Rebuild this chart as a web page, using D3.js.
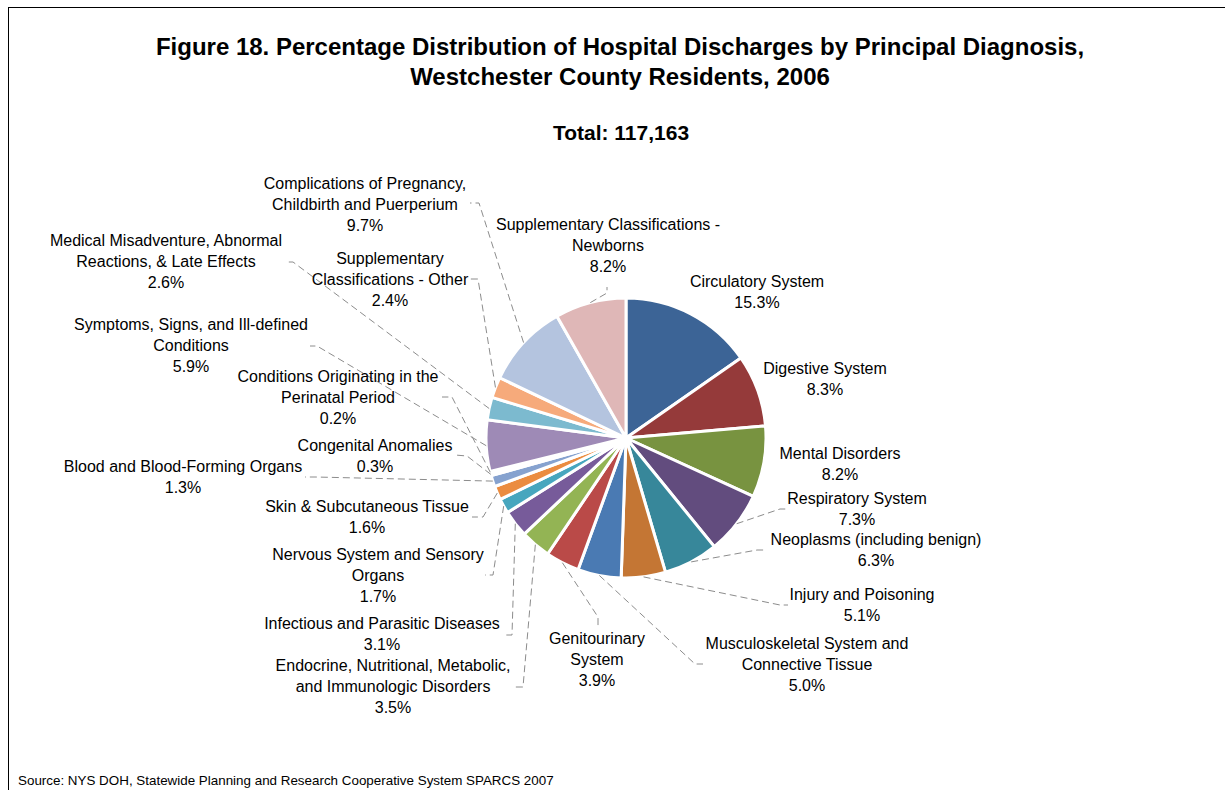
<!DOCTYPE html>
<html>
<head>
<meta charset="utf-8">
<script src="https://cdn.jsdelivr.net/npm/d3@7"></script>
<style>
  body { margin: 0; background: #fff; }
  svg { font-family: "Liberation Sans", Arial, sans-serif; }
</style>
</head>
<body>
<div id="chart"></div>
<script>
const categories = [
    "Circulatory System",
    "Digestive System",
    "Mental Disorders",
    "Respiratory System",
    "Neoplasms (including benign)",
    "Injury and Poisoning",
    "Musculoskeletal System and\nConnective Tissue",
    "Genitourinary\nSystem",
    "Endocrine, Nutritional, Metabolic,\nand Immunologic Disorders",
    "Infectious and Parasitic Diseases",
    "Nervous System and Sensory\nOrgans",
    "Skin & Subcutaneous Tissue",
    "Blood and Blood-Forming Organs",
    "Congenital Anomalies",
    "Conditions Originating in the\nPerinatal Period",
    "Symptoms, Signs, and Ill-defined\nConditions",
    "Medical Misadventure, Abnormal\nReactions, & Late Effects",
    "Supplementary\nClassifications - Other",
    "Complications of Pregnancy,\nChildbirth and Puerperium",
    "Supplementary Classifications -\nNewborns"
];
const percents = [15.3, 8.3, 8.2, 7.3, 6.3, 5.1, 5.0, 3.9, 3.5, 3.1, 1.7, 1.6, 1.3, 0.3, 0.2, 5.9, 2.6, 2.4, 9.7, 8.2];
const total = "117,163";

const colors = ["#3C6496", "#953A3A", "#789340", "#624C7E", "#37879A", "#C47634",
                "#4A7AB3", "#BA4A48", "#93B454", "#775B9A", "#47A6BE", "#EB8C40",
                "#86A2CF", "#D46F6E", "#C3D69B", "#9E8AB6", "#7CBACF", "#F6AA7B",
                "#B4C4DF", "#DFB7B7"];

// label placement: text centre x, first line y, leader anchor & elbow
const labelLayout = [
    { x: 757, y: 281 },
    { x: 825, y: 368 },
    { x: 840, y: 453 },
    { x: 857, y: 498, anchor: [786, 509], elbow: [780, 509] },
    { x: 876, y: 539, anchor: [767, 550], elbow: [757, 550] },
    { x: 862, y: 594, anchor: [788, 605], elbow: [780, 605] },
    { x: 807, y: 643, anchor: [703, 664], elbow: [695, 664] },
    { x: 597, y: 638, anchor: [598, 626], elbow: [598, 617] },
    { x: 393, y: 665, anchor: [513, 687], elbow: [523, 687] },
    { x: 382, y: 623, anchor: [503, 635], elbow: [512, 635] },
    { x: 378, y: 554, anchor: [485, 575], elbow: [493, 575] },
    { x: 367, y: 506, anchor: [472, 517], elbow: [483, 517] },
    { x: 183, y: 466, anchor: [305, 477], elbow: [315, 477] },
    { x: 375, y: 445, anchor: [455, 455], elbow: [467, 456] },
    { x: 338, y: 376, anchor: [442, 397], elbow: [452, 397] },
    { x: 191, y: 324, anchor: [310, 346], elbow: [317, 346] },
    { x: 166, y: 240, anchor: [285, 262], elbow: [293, 262] },
    { x: 390, y: 258, anchor: [470, 279], elbow: [478, 279] },
    { x: 365, y: 183, anchor: [470, 203], elbow: [479, 203] },
    { x: 608, y: 224, anchor: [607, 287], elbow: [607, 293] }
];

const W = 1225, H = 790;
const cx = 626, cy = 438, radius = 140;
const lineH = 21.4;

const data = categories.map((c, i) => ({ name: c, value: percents[i], i: i }));

const svg = d3.select("#chart")
    .append("svg")
    .attr("width", W)
    .attr("height", H);

// chart border
svg.append("rect")
    .attr("x", 8.5)
    .attr("y", 7.5)
    .attr("width", 1240)
    .attr("height", 800)
    .attr("fill", "none")
    .attr("stroke", "#000")
    .attr("stroke-width", 1);

//Title
const title = svg.append("text")
    .attr("text-anchor", "middle")
    .style("font-size", "24px")
    .style("font-weight", "bold")
    .style("fill", "#000");
title.append("tspan").attr("x", 620).attr("y", 55)
    .text("Figure 18. Percentage Distribution of Hospital Discharges by Principal Diagnosis,");
title.append("tspan").attr("x", 620).attr("y", 85)
    .text("Westchester County Residents, 2006");

svg.append("text")
    .attr("x", 621)
    .attr("y", 139.5)
    .attr("text-anchor", "middle")
    .style("font-size", "21px")
    .style("font-weight", "bold")
    .text("Total: " + total);

const pie = d3.pie()
    .sort(null)
    .value(d => d.value);

const arcs = pie(data);

const arc = d3.arc()
    .innerRadius(0)
    .outerRadius(radius);

const g = svg.append("g")
    .attr("transform", `translate(${cx},${cy})`);

g.selectAll("path")
    .data(arcs)
    .enter()
    .append("path")
    .attr("d", arc)
    .attr("fill", d => colors[d.data.i])
    .attr("stroke", "#fff")
    .attr("stroke-width", 3)
    .attr("stroke-linejoin", "round");

//Leader lines
const leaderData = arcs.filter(d => labelLayout[d.data.i].anchor);

svg.append("g")
    .selectAll("polyline")
    .data(leaderData)
    .enter()
    .append("polyline")
    .attr("points", d => {
        const lay = labelLayout[d.data.i];
        const mid = (d.startAngle + d.endAngle) / 2;
        const sx = cx + radius * Math.sin(mid);
        const sy = cy - radius * Math.cos(mid);
        return [[sx, sy], lay.elbow, lay.anchor].map(p => p.join(",")).join(" ");
    })
    .attr("fill", "none")
    .attr("stroke", "#8c8c8c")
    .attr("stroke-width", 1)
    .attr("stroke-dasharray", "7,4");

//Labels
const labels = svg.append("g")
    .selectAll("text")
    .data(arcs)
    .enter()
    .append("text")
    .attr("text-anchor", "middle")
    .style("font-size", "16px")
    .style("fill", "#000");

labels.each(function(d) {
    const lay = labelLayout[d.data.i];
    const lines = d.data.name.split("\n").concat([d.data.value.toFixed(1) + "%"]);
    const t = d3.select(this);
    lines.forEach((ln, k) => {
        t.append("tspan")
            .attr("x", lay.x)
            .attr("y", lay.y + k * lineH)
            .attr("dy", "0.35em")
            .text(ln);
    });
});

//Source
svg.append("text")
    .attr("x", 18)
    .attr("y", 785)
    .style("font-size", "13.4px")
    .text("Source: NYS DOH, Statewide Planning and Research Cooperative System SPARCS 2007");
</script>
</body>
</html>
